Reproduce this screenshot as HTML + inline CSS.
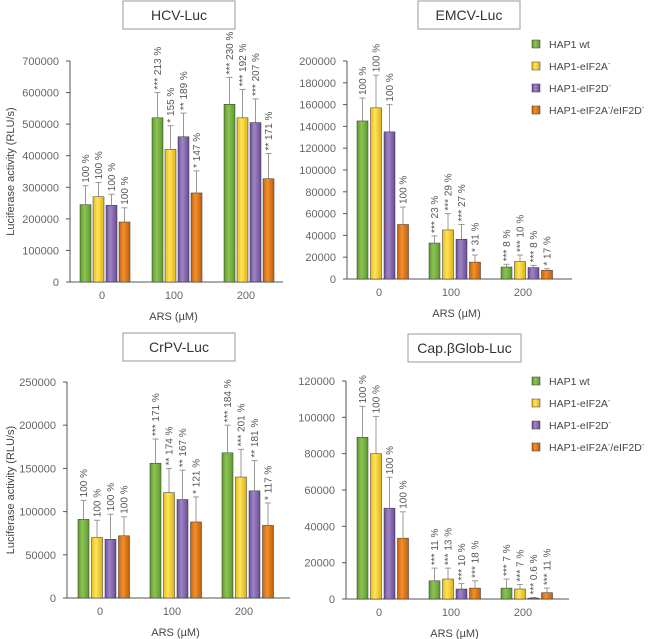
<!DOCTYPE html>
<html><head><meta charset="utf-8"><style>
body{margin:0;background:#fff;}
svg{display:block;font-family:"Liberation Sans",Arial,sans-serif;}
</style></head><body>
<svg id="chart" width="648" height="639" viewBox="0 0 648 639">
<defs>
<linearGradient id="g0" x1="0" x2="1"><stop offset="0" stop-color="#5f9a2e"/><stop offset="0.4" stop-color="#8cc353"/><stop offset="1" stop-color="#5f9a2e"/></linearGradient>
<linearGradient id="g1" x1="0" x2="1"><stop offset="0" stop-color="#e8b918"/><stop offset="0.4" stop-color="#fde55a"/><stop offset="1" stop-color="#e2b012"/></linearGradient>
<linearGradient id="g2" x1="0" x2="1"><stop offset="0" stop-color="#6e4f98"/><stop offset="0.4" stop-color="#9f84c6"/><stop offset="1" stop-color="#6a4c94"/></linearGradient>
<linearGradient id="g3" x1="0" x2="1"><stop offset="0" stop-color="#c9620c"/><stop offset="0.4" stop-color="#f0902e"/><stop offset="1" stop-color="#c45e0a"/></linearGradient>
</defs>
</svg>
<script>
const categories = ["0","100","200"];
const seriesNames = ["HAP1 wt","HAP1-eIF2A","HAP1-eIF2D","HAP1-eIF2A/eIF2D"];
// HCV-Luc
const hcvValues = [[245000,270000,243000,190000],[520000,420000,460000,282000],[563000,520000,505000,327000]];
const hcvErrors = [[60000,45000,35000,45000],[80000,75000,75000,70000],[85000,90000,75000,80000]];
const hcvLabels = [["100 %","100 %","100 %","100 %"],["*** 213 %","* 155 %","** 189 %","* 147 %"],["*** 230 %","*** 192 %","*** 207 %","** 171 %"]];
const hcvTicks = [0,100000,200000,300000,400000,500000,600000,700000];
// EMCV-Luc
const emcvValues = [[145000,157000,135000,50000],[33000,45000,36500,15500],[11000,16000,10500,8000]];
const emcvErrors = [[21000,30000,25000,16000],[6500,15000,13500,6500],[2500,6000,2000,1500]];
const emcvLabels = [["100 %","100 %","100 %","100 %"],["*** 23 %","*** 29 %","*** 27 %","* 31 %"],["*** 8 %","*** 10 %","*** 8 %","* 17 %"]];
const emcvTicks = [0,20000,40000,60000,80000,100000,120000,140000,160000,180000,200000];
// CrPV-Luc
const crpvValues = [[91000,70000,68000,72000],[156000,122000,114000,88000],[168000,140000,124000,84000]];
const crpvErrors = [[22000,20000,29000,22000],[28000,28000,34000,29000],[32000,32000,35000,26000]];
const crpvLabels = [["100 %","100 %","100 %","100 %"],["*** 171 %","** 174 %","** 167 %","* 121 %"],["*** 184 %","*** 201 %","** 181 %","* 117 %"]];
const crpvTicks = [0,50000,100000,150000,200000,250000];
// Cap.βGlob-Luc
const capValues = [[89000,80000,50000,33500],[10000,11000,5500,6000],[6000,5500,500,3500]];
const capErrors = [[17000,20500,17000,14500],[7000,6000,3000,4000],[5000,2500,300,2500]];
const capLabels = [["100 %","100 %","100 %","100 %"],["*** 11 %","*** 13 %","*** 10 %","*** 18 %"],["*** 7 %","*** 7 %","*** 0.6 %","*** 11 %"]];
const capTicks = [0,20000,40000,60000,80000,100000,120000];

const NS="http://www.w3.org/2000/svg";
const svg=document.getElementById('chart');
function mk(tag,attrs,parent){const e=document.createElementNS(NS,tag);for(const k in attrs)e.setAttribute(k,attrs[k]);(parent||svg).appendChild(e);return e;}

function panel(cfg){
  const g=mk('g',{});
  
  
  const maxV=cfg.ticks[cfg.ticks.length-1];
  const y=v=>cfg.y0-(v/maxV)*(cfg.y0-cfg.yTop);
  const gx=i=>cfg.x0+cfg.firstGroup+i*cfg.groupStep;
  const tb=mk('rect',{x:cfg.tx,y:cfg.ty,width:cfg.tw,height:28,fill:'#fff',stroke:'#999','stroke-width':1},g);
  
  
  const tt=mk('text',{x:cfg.tx+cfg.tw/2,y:cfg.ty+19,'text-anchor':'middle','font-size':14,fill:'#333'},g);
  tt.textContent=cfg.title;
  
  
  const ya=mk('line',{x1:cfg.x0,y1:cfg.yTop,x2:cfg.x0,y2:cfg.y0,stroke:'#555','stroke-width':1},g);
  
  
  const xa=mk('line',{x1:cfg.x0,y1:cfg.y0,x2:cfg.xEnd,y2:cfg.y0,stroke:'#555','stroke-width':1},g);
  
  
  cfg.ticks.forEach(t=>{
    mk('line',{x1:cfg.x0-4,y1:y(t),x2:cfg.x0,y2:y(t),stroke:'#555'},g);
    const tl=mk('text',{x:cfg.x0-11,y:y(t)+4,'text-anchor':'end','font-size':11,fill:'#666'},g);
    tl.textContent=t;
    
    
  });
  categories.forEach((c,i)=>{
    const cl=mk('text',{x:gx(i)+cfg.bw*2,y:cfg.y0+17,'text-anchor':'middle','font-size':11,fill:'#666'},g);
    cl.textContent=c;
    
    
    for(let s=0;s<4;s++){
      const v=cfg.values[i][s],e=cfg.errors[i][s];
      const bx=gx(i)+s*cfg.step;
      const et=y(v+e);
      const el=mk('line',{x1:bx+cfg.bw/2,y1:et,x2:bx+cfg.bw/2,y2:y(v),stroke:'#999','stroke-width':1},g);
      
      
      mk('line',{x1:bx+cfg.bw/2-3,y1:et,x2:bx+cfg.bw/2+3,y2:et,stroke:'#999'},g);
      const r=mk('rect',{x:bx,y:y(v),width:cfg.bw,height:cfg.y0-y(v),fill:'url(#g'+s+')',stroke:'#333','stroke-width':0.5},g);
      
      
      const lx=bx+cfg.bw/2+3.5, ly=et-3;
      const lt=mk('text',{x:lx,y:ly,'font-size':10,fill:'#555',transform:`rotate(-90 ${lx} ${ly})`},g);
      lt.textContent=cfg.labels[i][s];
      
      
    }
  });
  const at=mk('text',{x:cfg.x0+(cfg.xEnd-cfg.x0)/2-3,y:cfg.y0+38,'text-anchor':'middle','font-size':11,fill:'#444'},g);
  at.textContent='ARS (\u00B5M)';
  
  
  if(cfg.ylabel){
    const cy=(cfg.y0+cfg.yTop)/2;
    const yl=mk('text',{x:14,y:cy,'text-anchor':'middle','font-size':11,fill:'#444',transform:`rotate(-90 14 ${cy})`},g);
    yl.textContent='Luciferase activity (RLU/s)';
    
    
  }
  if(cfg.legendY!==undefined){
    seriesNames.forEach((n,s)=>{
      const ly=cfg.legendY+s*22;
      const sq=mk('rect',{x:532,y:ly-4,width:8,height:8,fill:'url(#g'+s+')',stroke:'#333','stroke-width':0.5},g);
      
      
      const t=mk('text',{x:549,y:ly+4,'font-size':10.5,fill:'#444'},g);
      
      
      if(s===0) t.textContent=n;
      else if(s===3){t.innerHTML='HAP1-eIF2A<tspan dy="-4" font-size="7">-</tspan><tspan dy="4">/eIF2D</tspan><tspan dy="-4" font-size="7">-</tspan>';}
      else {t.innerHTML=n+'<tspan dy="-4" font-size="7">-</tspan>';}
    });
  }
}
panel({name:'hcv',title:'HCV-Luc',tx:123,ty:1,tw:112,x0:70,xEnd:283,y0:282,yTop:61,firstGroup:10,groupStep:72,step:13,bw:11,ticks:hcvTicks,values:hcvValues,errors:hcvErrors,labels:hcvLabels,ylabel:true});
panel({name:'emcv',title:'EMCV-Luc',tx:418,ty:1,tw:102,x0:347,xEnd:572,y0:279,yTop:61,firstGroup:10,groupStep:72,step:13.5,bw:11,ticks:emcvTicks,values:emcvValues,errors:emcvErrors,labels:emcvLabels,legendY:44});
panel({name:'crpv',title:'CrPV-Luc',tx:123,ty:333,tw:112,x0:67,xEnd:290,y0:598,yTop:382,firstGroup:11,groupStep:72,step:13.5,bw:11,ticks:crpvTicks,values:crpvValues,errors:crpvErrors,labels:crpvLabels,ylabel:true});
panel({name:'cap',title:'Cap.\u03B2Glob-Luc',tx:408,ty:334,tw:113,x0:346,xEnd:569,y0:599,yTop:381,firstGroup:11,groupStep:72,step:13.5,bw:11,ticks:capTicks,values:capValues,errors:capErrors,labels:capLabels,legendY:381});
</script>
</body></html>
